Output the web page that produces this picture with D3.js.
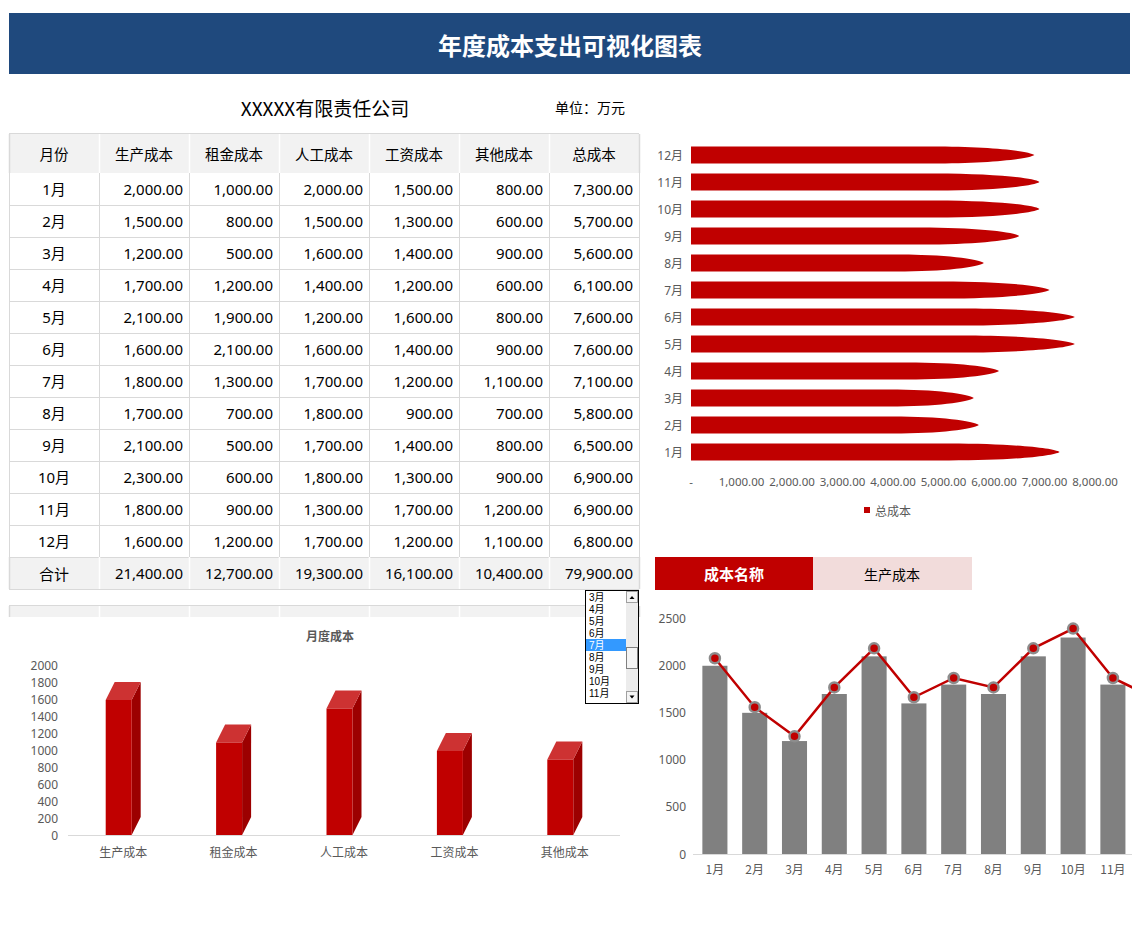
<!DOCTYPE html>
<html><head><meta charset="utf-8">
<script src="https://cdn.jsdelivr.net/npm/d3@7/dist/d3.min.js"></script>
<style>
html,body{margin:0;padding:0;background:#fff;}
svg{display:block;font-family:"Noto Sans","Noto Sans CJK SC",sans-serif;}
</style></head>
<body><svg id="c" width="1132" height="942"></svg>
<script>
// ---------- data ----------
const months = ['1月','2月','3月','4月','5月','6月','7月','8月','9月','10月','11月','12月'];
const headers = ['月份','生产成本','租金成本','人工成本','工资成本','其他成本','总成本'];
const costNames = ['生产成本','租金成本','人工成本','工资成本','其他成本'];
const production = [2000,1500,1200,1700,2100,1600,1800,1700,2100,2300,1800,1600];
const rent       = [1000,800,500,1200,1900,2100,1300,700,500,600,900,1200];
const labor      = [2000,1500,1600,1400,1200,1600,1700,1800,1700,1800,1300,1700];
const wage       = [1500,1300,1400,1200,1600,1400,1200,900,1400,1300,1700,1200];
const other      = [800,600,900,600,800,900,1100,700,800,900,1200,1100];
const total      = [7300,5700,5600,6100,7600,7600,7100,5800,6500,6900,6900,6800];
const sumRow     = [21400,12700,19300,16100,10400,79900];
const trendLine  = [2080,1560,1250,1770,2185,1665,1870,1770,2185,2395,1870,1665];
const hTicks = [0,1000,2000,3000,4000,5000,6000,7000,8000];
const tdTicks = [0,200,400,600,800,1000,1200,1400,1600,1800,2000];
const comboTicks = [0,500,1000,1500,2000,2500];
const listItems = ['3月','4月','5月','6月','7月','8月','9月','10月','11月'];
const selectedMonth = '7月';
const selectedCost = '生产成本';

const svg = d3.select('#c');
const fmt = d3.format(',.2f');
const CJK = '"Noto Sans CJK SC","Noto Sans",sans-serif';
const grayTxt = '#595959';
const red = '#c00000';
const W = 1132;

svg.append('rect').attr('width',1132).attr('height',942).attr('fill','#fff');

// ---------- banner ----------
svg.append('rect').attr('x',9).attr('y',13).attr('width',1121).attr('height',61).attr('fill','#1f497d');
svg.append('text').attr('x',570).attr('y',44).attr('text-anchor','middle').attr('dominant-baseline','central')
  .attr('fill','#fff').attr('font-size',24).attr('font-weight','bold').attr('font-family',CJK).text('年度成本支出可视化图表');

svg.append('text').attr('x',325).attr('y',107).attr('text-anchor','middle').attr('dominant-baseline','central')
  .attr('font-size',19).attr('font-family',CJK).attr('fill','#000').text('XXXXX有限责任公司');
svg.append('text').attr('x',590).attr('y',107).attr('text-anchor','middle').attr('dominant-baseline','central')
  .attr('font-size',14).attr('font-family',CJK).attr('fill','#000').text('单位：万元');

// ---------- table ----------
const colX = d3.scaleLinear().domain([0,7]).range([9,639]);
const rowTop = i => 173 + i*32;
const tbl = svg.append('g');
tbl.append('rect').attr('x',9).attr('y',133).attr('width',630).attr('height',40).attr('fill','#f2f2f2');
tbl.append('rect').attr('x',9).attr('y',557).attr('width',630).attr('height',32).attr('fill','#f2f2f2');
tbl.append('rect').attr('x',9).attr('y',605).attr('width',630).attr('height',12).attr('fill','#f2f2f2');
const hl = [133,205,237,269,301,333,365,397,429,461,493,525,557,589,605];
hl.forEach(y=>tbl.append('line').attr('x1',9).attr('x2',639).attr('y1',y+0.5).attr('y2',y+0.5).attr('stroke','#d9d9d9'));
for(let c=0;c<=7;c++){
  const x = Math.round(colX(c))+0.5;
  tbl.append('line').attr('x1',x).attr('x2',x).attr('y1',173).attr('y2',557).attr('stroke','#d9d9d9');
  const sc = (c===0||c===7)?'#d9d9d9':'#ffffff';
  tbl.append('line').attr('x1',x).attr('x2',x).attr('y1',134).attr('y2',173).attr('stroke',sc).attr('stroke-width',1.5);
  tbl.append('line').attr('x1',x).attr('x2',x).attr('y1',557).attr('y2',589).attr('stroke',sc).attr('stroke-width',1.5);
  tbl.append('line').attr('x1',x).attr('x2',x).attr('y1',606).attr('y2',617).attr('stroke',sc).attr('stroke-width',1.5);
}
headers.forEach((h,i)=>{
  tbl.append('text').attr('x',(colX(i)+colX(i+1))/2).attr('y',153).attr('text-anchor','middle')
    .attr('dominant-baseline','central').attr('font-size',14.5).attr('font-family',CJK).attr('fill','#000').text(h);
});
const cols = [production,rent,labor,wage,other,total];
months.forEach((m,r)=>{
  const cy = rowTop(r)+16;
  tbl.append('text').attr('x',(colX(0)+colX(1))/2).attr('y',cy).attr('text-anchor','middle')
    .attr('dominant-baseline','central').attr('font-size',15).attr('fill','#000').text(m);
  cols.forEach((arr,c)=>{
    tbl.append('text').attr('x',colX(c+2)-6).attr('y',cy).attr('text-anchor','end')
      .attr('dominant-baseline','central').attr('font-size',15).attr('fill','#000').text(fmt(arr[r]));
  });
});
tbl.append('text').attr('x',(colX(0)+colX(1))/2).attr('y',573).attr('text-anchor','middle')
  .attr('dominant-baseline','central').attr('font-size',15).attr('font-family',CJK).attr('fill','#000').text('合计');
sumRow.forEach((v,c)=>{
  tbl.append('text').attr('x',colX(c+2)-6).attr('y',573).attr('text-anchor','end')
    .attr('dominant-baseline','central').attr('font-size',15).attr('fill','#000').text(fmt(v));
});

// ---------- horizontal bar chart (top right) ----------
const hx = d3.scaleLinear().domain([0,8000]).range([691,1095]);
const hy = d3.scaleBand().domain(months.slice().reverse()).range([141.5,465.5]).paddingInner(0.37).paddingOuter(0.185);
const hg = svg.append('g');
months.forEach((m,i)=>{
  const x0 = hx(0), x1 = hx(total[i]), y0 = hy(m), h = hy.bandwidth();
  const t = (x1-x0)*0.3, xs = x1-t, ym = y0+h/2;
  const p = `M${x0},${y0} L${xs},${y0} C${xs+0.55*t},${y0} ${x1-0.06*t},${y0+h*0.25} ${x1},${ym} `+
            `C${x1-0.06*t},${y0+h*0.75} ${xs+0.55*t},${y0+h} ${xs},${y0+h} L${x0},${y0+h} Z`;
  hg.append('path').attr('d',p).attr('fill',red);
  hg.append('text').attr('x',683).attr('y',ym).attr('text-anchor','end').attr('dominant-baseline','central')
    .attr('font-size',12).attr('fill',grayTxt).text(m);
});
hTicks.forEach(v=>{
  hg.append('text').attr('x',hx(v)).attr('y',481).attr('text-anchor','middle').attr('dominant-baseline','central')
    .attr('font-size',11.5).attr('fill',grayTxt).text(v===0?'-':fmt(v));
});
hg.append('rect').attr('x',864).attr('y',507).attr('width',6).attr('height',6).attr('fill',red);
hg.append('text').attr('x',875).attr('y',510).attr('dominant-baseline','central').attr('font-size',12)
  .attr('font-family',CJK).attr('fill',grayTxt).text('总成本');

// ---------- 3D column chart (bottom left) ----------
const sel = months.indexOf(selectedMonth);
const selVals = [production[sel],rent[sel],labor[sel],wage[sel],other[sel]];
const tx = d3.scaleBand().domain(costNames).range([68,620]).paddingInner(0.683).paddingOuter(0.3415);
const ty = d3.scaleLinear().domain([0,2000]).range([835,665]);
const tg = svg.append('g');
tg.append('text').attr('x',330).attr('y',635).attr('text-anchor','middle').attr('dominant-baseline','central')
  .attr('font-size',12).attr('font-weight','bold').attr('font-family',CJK).attr('fill',grayTxt).text('月度成本');
tdTicks.forEach(v=>{
  tg.append('text').attr('x',58).attr('y',ty(v)).attr('text-anchor','end').attr('dominant-baseline','central')
    .attr('font-size',12).attr('fill',grayTxt).text(v);
});
tg.append('line').attr('x1',68).attr('x2',620).attr('y1',ty(0)+0.5).attr('y2',ty(0)+0.5).attr('stroke','#d9d9d9');
const dx = 9, dy = 18;
costNames.forEach((n,i)=>{
  const xl = tx(n), w = tx.bandwidth()-dx, xr = xl+w;
  const yb = ty(0), yt = ty(selVals[i])+dy;
  tg.append('path').attr('d',`M${xr},${yt} L${xr+dx},${yt-dy} L${xr+dx},${yb-dy} L${xr},${yb} Z`).attr('fill','#9c0000');
  tg.append('path').attr('d',`M${xl},${yt} L${xl+dx},${yt-dy} L${xr+dx},${yt-dy} L${xr},${yt} Z`).attr('fill','#cd3232');
  tg.append('rect').attr('x',xl).attr('y',yt).attr('width',w).attr('height',yb-yt).attr('fill',red);
  tg.append('text').attr('x',xl+tx.bandwidth()/2).attr('y',851).attr('text-anchor','middle').attr('dominant-baseline','central')
    .attr('font-size',12).attr('font-family',CJK).attr('fill',grayTxt).text(n);
});

// ---------- list box ----------
const lb = svg.append('g');
lb.append('rect').attr('x',585.5).attr('y',590.5).attr('width',53).attr('height',113).attr('fill','#fff').attr('stroke','#000');
const ly = d3.scaleBand().domain(listItems).range([591,699]);
listItems.forEach(it=>{
  if(it===selectedMonth) lb.append('rect').attr('x',586).attr('y',ly(it)).attr('width',40).attr('height',ly.bandwidth()).attr('fill','#3399ff');
  lb.append('text').attr('x',589).attr('y',ly(it)+ly.bandwidth()/2).attr('dominant-baseline','central')
    .attr('font-size',10).attr('font-family','"Liberation Sans","Noto Sans CJK SC",sans-serif')
    .attr('fill',it===selectedMonth?'#fff':'#000').text(it);
});
lb.append('rect').attr('x',626).attr('y',591).attr('width',12).attr('height',112).attr('fill','#ececec');
lb.append('rect').attr('x',626.5).attr('y',591.5).attr('width',11).attr('height',11).attr('fill','#f4f4f4').attr('stroke','#a0a0a0');
lb.append('rect').attr('x',626.5).attr('y',691.5).attr('width',11).attr('height',11).attr('fill','#f4f4f4').attr('stroke','#a0a0a0');
lb.append('rect').attr('x',626.5).attr('y',647.5).attr('width',11).attr('height',21).attr('fill','#f4f4f4').attr('stroke','#808080');
lb.append('path').attr('d','M629.5,599 L632,596 L634.5,599 Z').attr('fill','#000');
lb.append('path').attr('d','M629.5,695.5 L632,698.5 L634.5,695.5 Z').attr('fill','#000');

// ---------- combo chart (bottom right) ----------
const cg = svg.append('g');
cg.append('rect').attr('x',655).attr('y',557).attr('width',158).attr('height',33).attr('fill',red);
cg.append('rect').attr('x',813).attr('y',557).attr('width',159).attr('height',33).attr('fill','#f2dcdb');
cg.append('text').attr('x',734).attr('y',573.5).attr('text-anchor','middle').attr('dominant-baseline','central')
  .attr('font-size',15).attr('font-weight','bold').attr('font-family',CJK).attr('fill','#fff').text('成本名称');
cg.append('text').attr('x',892).attr('y',573.5).attr('text-anchor','middle').attr('dominant-baseline','central')
  .attr('font-size',14).attr('font-family',CJK).attr('fill','#000').text(selectedCost);

const cx = d3.scaleBand().domain(months).range([695,1172.6]).paddingInner(0.37).paddingOuter(0.185);
const cy = d3.scaleLinear().domain([0,2500]).range([854,618.7]);
comboTicks.forEach(v=>{
  cg.append('text').attr('x',686).attr('y',cy(v)).attr('text-anchor','end').attr('dominant-baseline','central')
    .attr('font-size',12).attr('fill',grayTxt).text(v);
});
months.forEach((m,i)=>{
  cg.append('rect').attr('x',cx(m)).attr('y',cy(production[i])).attr('width',cx.bandwidth())
    .attr('height',cy(0)-cy(production[i])).attr('fill','#808080');
  const lx = cx(m)+cx.bandwidth()/2;
  if (lx + 14 <= W) {  // labels beyond the page edge are not visible in the reference
    cg.append('text').attr('x',lx).attr('y',868).attr('text-anchor','middle').attr('dominant-baseline','central')
      .attr('font-size',12).attr('font-family',CJK).attr('fill',grayTxt).text(m);
  }
});
cg.append('line').attr('x1',693).attr('x2',1132).attr('y1',cy(0)+0.5).attr('y2',cy(0)+0.5).attr('stroke','#d9d9d9');
const line = d3.line().x((d,i)=>cx(months[i])+cx.bandwidth()/2).y(d=>cy(d));
cg.append('path').attr('d',line(trendLine)).attr('fill','none').attr('stroke',red).attr('stroke-width',2.5);
trendLine.forEach((v,i)=>{
  cg.append('circle').attr('cx',cx(months[i])+cx.bandwidth()/2).attr('cy',cy(v)).attr('r',5)
    .attr('fill',red).attr('stroke','#8c8c8c').attr('stroke-width',2.5);
});
</script></body></html>
